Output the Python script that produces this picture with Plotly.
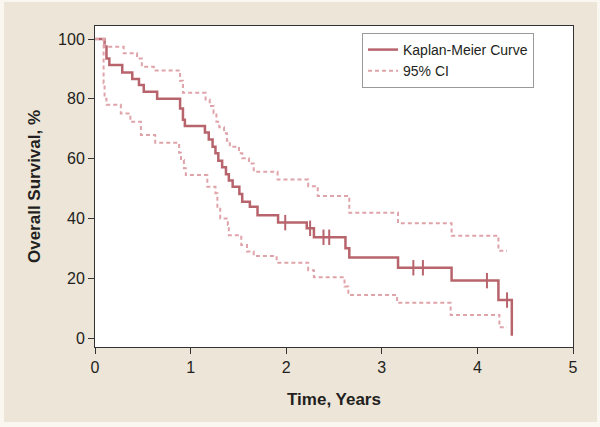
import plotly.graph_objects as go
import numpy as np

# Kaplan-Meier estimate (event times in years, survival %)
km_time = [0, 0.10, 0.12, 0.15, 0.285, 0.39, 0.46, 0.51, 0.65, 0.89, 0.92, 0.94,
           1.15, 1.19, 1.23, 1.26, 1.29, 1.33, 1.37, 1.40, 1.44, 1.51, 1.54, 1.62,
           1.70, 1.915, 2.215, 2.29, 2.62, 2.66, 3.17, 3.73, 4.22, 4.36]
km_surv = [100, 97.5, 93.5, 91.3, 88.8, 86.6, 84.6, 82.4, 80.0, 76.8, 73.0, 70.9,
           68.7, 66.4, 64.0, 61.8, 59.3, 57.1, 54.8, 52.7, 50.6, 48.2, 45.6, 43.9,
           41.1, 38.6, 36.7, 33.7, 30.0, 26.9, 23.5, 19.2, 12.7, 0.8]
km_end = 4.36

# Censored observations (years)
censor_time = [1.99, 2.25, 2.39, 2.45, 3.33, 3.43, 4.10, 4.31]

# Upper 95% confidence limit
up_time = [0, 0.10, 0.30, 0.44, 0.49, 0.615, 0.89, 0.92, 1.157, 1.20, 1.24, 1.27,
           1.30, 1.35, 1.38, 1.41, 1.506, 1.54, 1.61, 1.66, 1.91, 2.23, 2.33, 2.66,
           3.17, 3.73, 4.22]
up_surv = [100, 97.4, 95.2, 93.5, 90.7, 89.5, 86.0, 82.0, 79.8, 77.6, 75.2, 72.3,
           70.5, 68.5, 66.0, 64.0, 61.8, 60.1, 58.4, 55.6, 53.0, 50.8, 47.5, 41.9,
           38.4, 34.2, 29.2]
up_end = 4.31

# Lower 95% confidence limit
lo_time = [0, 0.09, 0.10, 0.12, 0.27, 0.37, 0.48, 0.63, 0.88, 0.90, 0.93, 0.95,
           1.175, 1.26, 1.28, 1.31, 1.39, 1.40, 1.53, 1.59, 1.66, 1.90, 2.23, 2.29,
           2.61, 2.65, 3.16, 3.72, 4.23]
lo_surv = [100, 85.2, 80.0, 78.0, 75.1, 72.3, 67.9, 65.3, 62.0, 59.5, 56.8, 54.5,
           50.6, 48.4, 43.9, 40.0, 37.8, 34.4, 31.1, 28.9, 27.4, 25.2, 22.7, 20.3,
           17.2, 14.4, 11.8, 7.7, 3.6]
lo_end = 4.31

x_ticks = [0, 1, 2, 3, 4, 5]
y_ticks = [0, 20, 40, 60, 80, 100]


def step_at(times, surv, t):
    idx = np.searchsorted(np.array(times), t, side="right") - 1
    return surv[idx]


solid = "#B8646C"
dashed = "#DFA3AA"
font_fam = "Liberation Sans Narrow, Arial Narrow, Liberation Sans, sans-serif"

W, H = 600, 427
ML, MR, MT, MB = 95, 27, 26, 80
pw, ph = W - ML - MR, H - MT - MB


def px_x(p):
    return (p - ML) / pw


def px_y(p):
    return (H - MB - p) / ph


fig = go.Figure()

fig.add_trace(go.Scatter(
    x=km_time + [km_end], y=km_surv + [km_surv[-1]], mode="lines",
    line=dict(color=solid, width=2.5, shape="hv"), name="Kaplan-Meier Curve"))

fig.add_trace(go.Scatter(
    x=up_time + [up_end], y=up_surv + [up_surv[-1]], mode="lines",
    line=dict(color=dashed, width=2, shape="hv", dash="4px,3px"), name="95% CI"))

fig.add_trace(go.Scatter(
    x=lo_time + [lo_end], y=lo_surv + [lo_surv[-1]], mode="lines",
    line=dict(color=dashed, width=2, shape="hv", dash="4px,3px"), showlegend=False))

fig.add_trace(go.Scatter(
    x=censor_time, y=[step_at(km_time, km_surv, t) for t in censor_time],
    mode="markers",
    marker=dict(symbol="line-ns", size=11, line=dict(color=solid, width=2)),
    showlegend=False))

# beige panel with thin light border around the figure
fig.add_shape(type="rect", xref="paper", yref="paper", layer="below",
              x0=px_x(4), x1=px_x(597), y0=px_y(422), y1=px_y(2),
              fillcolor="#EDE5D8", line=dict(width=0))
# white plotting area on top of the panel
fig.add_shape(type="rect", xref="paper", yref="paper", layer="below",
              x0=0, x1=1, y0=0, y1=1,
              fillcolor="white", line=dict(width=0))

fig.update_layout(
    width=W, height=H,
    margin=dict(l=ML, r=MR, t=MT, b=MB),
    paper_bgcolor="#FAF7F0", plot_bgcolor="white",
    font=dict(family=font_fam, size=16, color="#231F20"),
    showlegend=True,
    legend=dict(x=px_x(362), y=px_y(33), xanchor="left", yanchor="top",
                bgcolor="white", bordercolor="#9A9A9A", borderwidth=1,
                font=dict(size=14), tracegroupgap=0, itemwidth=30),
)

fig.update_xaxes(
    range=[0, 5], tickvals=x_ticks, ticks="outside", ticklen=6, tickcolor="#333",
    showline=True, linecolor="#333", linewidth=1, mirror=True, showgrid=False,
    zeroline=False,
    title=dict(text="<b>Time, Years</b>", font=dict(size=17), standoff=17))

fig.update_yaxes(
    range=[-3.0, 104.35], tickvals=y_ticks, ticks="outside", ticklen=6, tickcolor="#333",
    showline=True, linecolor="#333", linewidth=1, mirror=True, showgrid=False,
    zeroline=False,
    title=dict(text="<b>Overall Survival, %</b>", font=dict(size=17), standoff=13))

fig.write_html("out.html", config={"displayModeBar": False},
               post_script="document.body.style.margin='0';")
